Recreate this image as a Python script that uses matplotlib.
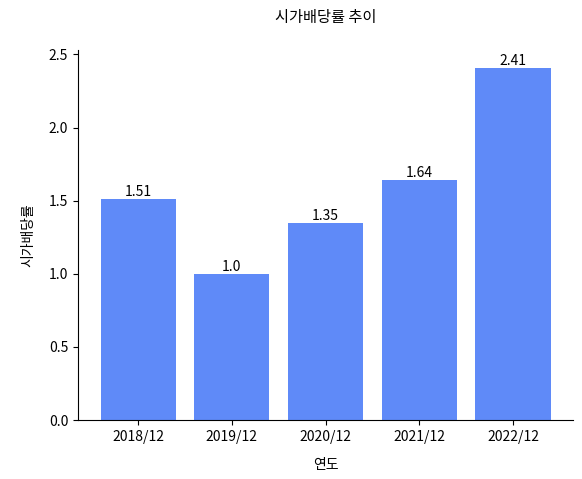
import matplotlib
matplotlib.use("Agg")
import matplotlib.pyplot as plt

plt.rcParams['font.family'] = ['Noto Sans CJK KR', 'DejaVu Sans']

years = ['2018/12', '2019/12', '2020/12', '2021/12', '2022/12']
values = [1.51, 1.0, 1.35, 1.64, 2.41]
labels = ['1.51', '1.0', '1.35', '1.64', '2.41']

fig = plt.figure(figsize=(5.82, 4.79), dpi=100)
ax = fig.add_axes([78/582, 59/479, 495/582, 370/479])
bars = ax.bar(years, values, color='#5f8af8', width=0.8)
for b, l in zip(bars, labels):
    ax.text(b.get_x() + b.get_width()/2, b.get_height(), l, ha='center', va='bottom', fontsize=10)
ax.set_ylim(0, 2.53)
ax.set_yticks([0, 0.5, 1.0, 1.5, 2.0, 2.5])
ax.spines['top'].set_visible(False)
ax.spines['right'].set_visible(False)
ax.set_title('시가배당률 추이', pad=20, fontsize=11)
ax.set_xlabel('연도', labelpad=10)
ax.set_ylabel('시가배당률', labelpad=10)
ax.tick_params(labelsize=10)
fig.savefig('out.png', dpi=100)
